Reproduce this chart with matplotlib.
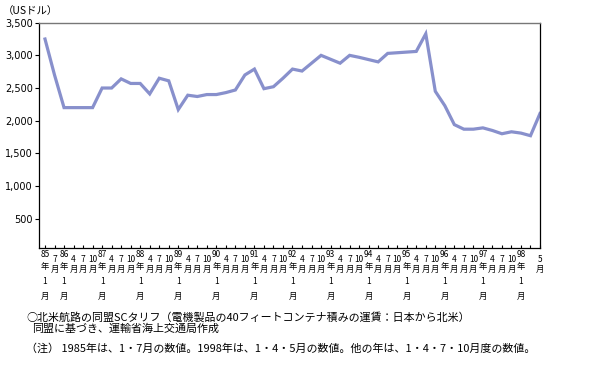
import matplotlib.pyplot as plt

plt.rcParams['font.family'] = ['Noto Sans CJK JP', 'DejaVu Sans']

# quarterly points, 1985 (Jan, Jul), 1986-1997 (Jan/Apr/Jul/Oct), 1998 (Jan, Apr, May)
years = ['85', '86', '87', '88', '89', '90', '91', '92', '93', '94', '95', '96', '97', '98']
months = {
    '85': ['1', '7'],
    '98': ['1', '', '5'],   # the April label is left out in the original
}
default_months = ['1', '4', '7', '10']

rates = [3250, 2700,
         2200, 2200, 2200, 2200,
         2500, 2500, 2640, 2570,
         2570, 2410, 2650, 2610,
         2170, 2390, 2370, 2400,
         2400, 2430, 2470, 2700,
         2790, 2490, 2520, 2650,
         2790, 2760, 2880, 3000,
         2940, 2880, 3000, 2970,
         2935, 2900, 3030, 3040,
         3050, 3060, 3330, 2450,
         2230, 1940, 1870, 1870,
         1890, 1850, 1800, 1830,
         1810, 1770, 2110]

yticks = [500, 1000, 1500, 2000, 2500, 3000, 3500]
ytick_labels = ['500', '1,000', '1,500', '2,000', '2,500', '3,000', '3,500']

line1 = '○北米航路の同盟SCタリフ（電機製品の40フィートコンテナ積みの運賃：日本から北米）'
line2 = '同盟に基づき、運輸省海上交通局作成'
note = '（注） 1985年は、1・7月の数値。1998年は、1・4・5月の数値。他の年は、1・4・7・10月度の数値。'

# build (year, month) list
labels = []
for y in years:
    for m in months.get(y, default_months):
        labels.append((y, m))

fig = plt.figure(figsize=(6, 3.72), dpi=100)
ax = fig.add_axes([0.065, 0.334, 0.835, 0.605])

x = list(range(len(rates)))
ax.plot(x, rates, color='#8890cc', lw=2.3, solid_joinstyle='miter')

ax.set_xlim(-0.63, len(rates) - 1)
ax.set_ylim(55, 3500)
ax.set_yticks(yticks)
ax.set_yticklabels(ytick_labels, fontsize=7, family=['DejaVu Sans'])
ax.tick_params(axis='y', direction='out', length=3, width=0.8, pad=1.5)
ax.set_xticks(x)
ax.set_xticklabels([])
ax.tick_params(axis='x', direction='in', length=2, width=0.8)

for s in ['left', 'right', 'bottom']:
    ax.spines[s].set_color('black')
    ax.spines[s].set_linewidth(0.9)
ax.spines['top'].set_color('#777777')
ax.spines['top'].set_linewidth(1.0)

# vertical stacked tick labels
def put(xi, txt, dy):
    ax.annotate(txt, xy=(xi, 0), xycoords=('data', 'axes fraction'),
                xytext=(0, -dy), textcoords='offset pixels',
                ha='center', va='center', fontsize=6)

for i, (y, m) in enumerate(labels):
    if m == '':
        continue
    if m == '1':
        put(i, y, 7)
        put(i, '年', 19)
        put(i, '1', 34)
        put(i, '月', 49)
    else:
        put(i, m, 12)
        put(i, '月', 21.5)

fig.text(0.004, 0.97, '（USドル）', fontsize=7.5, ha='left', va='center')
fig.text(0.044, 1 - 317.5 / 372, line1, fontsize=7.9, ha='left', va='center')
fig.text(0.054, 1 - 328.5 / 372, line2, fontsize=7.9, ha='left', va='center')
fig.text(0.044, 1 - 348.5 / 372, note, fontsize=7.9, ha='left', va='center')

fig.savefig('out.png', dpi=100)
